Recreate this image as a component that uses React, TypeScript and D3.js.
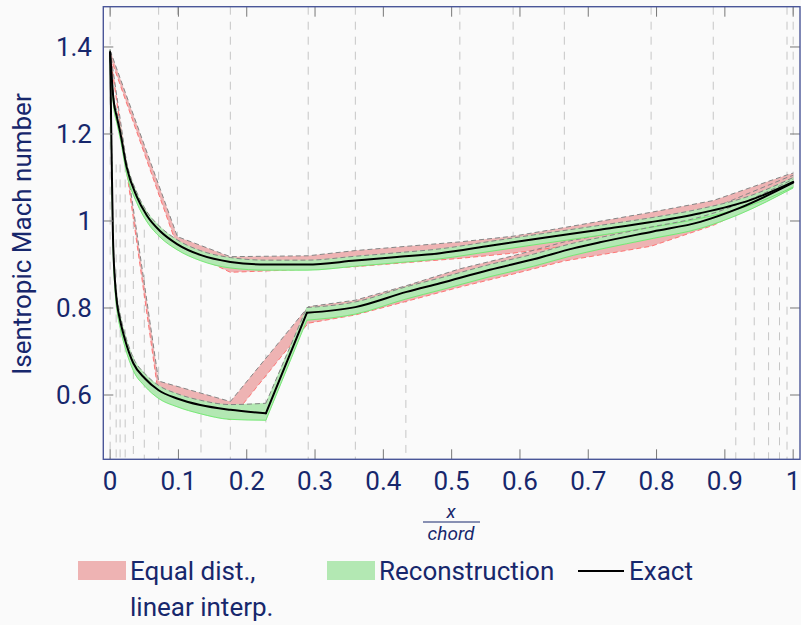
import React from 'react';
import * as d3 from 'd3';

// upper branch (suction side), exact solution
const upperX = [0, 0.005, 0.01, 0.015, 0.024, 0.039, 0.054, 0.073, 0.098, 0.132, 0.176, 0.229, 0.288, 0.359, 0.42, 0.483, 0.556, 0.62, 0.717, 0.79, 0.864, 0.937, 1.0];
const upperExact = [1.388, 1.278, 1.238, 1.202, 1.125, 1.056, 1.012, 0.977, 0.947, 0.922, 0.906, 0.9, 0.9, 0.909, 0.917, 0.926, 0.943, 0.958, 0.98, 0.997, 1.018, 1.048, 1.09];
const upperReconLo = [1.376, 1.264, 1.224, 1.188, 1.11, 1.042, 0.998, 0.963, 0.934, 0.909, 0.892, 0.887, 0.887, 0.896, 0.904, 0.913, 0.93, 0.945, 0.967, 0.985, 1.006, 1.036, 1.078];
const upperReconHi = [1.394, 1.29, 1.25, 1.213, 1.136, 1.066, 1.021, 0.987, 0.957, 0.932, 0.916, 0.91, 0.91, 0.919, 0.927, 0.936, 0.953, 0.968, 0.99, 1.007, 1.028, 1.058, 1.1];

// lower branch (with the shock), exact solution
const lowerX = [0, 0.002, 0.004, 0.007, 0.01, 0.0146, 0.022, 0.034, 0.051, 0.071, 0.098, 0.132, 0.176, 0.228, 0.288, 0.359, 0.434, 0.483, 0.556, 0.62, 0.678, 0.717, 0.795, 0.864, 0.922, 1.0];
const lowerExact = [1.388, 1.17, 0.975, 0.864, 0.812, 0.772, 0.726, 0.673, 0.638, 0.611, 0.592, 0.577, 0.566, 0.558, 0.789, 0.802, 0.837, 0.857, 0.888, 0.912, 0.937, 0.951, 0.976, 0.998, 1.03, 1.088];
const lowerReconLo = [1.376, 1.15, 0.955, 0.845, 0.795, 0.755, 0.709, 0.656, 0.62, 0.592, 0.573, 0.557, 0.544, 0.542, 0.772, 0.786, 0.821, 0.841, 0.872, 0.896, 0.921, 0.935, 0.96, 0.983, 1.016, 1.076];
const lowerReconHi = [1.394, 1.195, 0.995, 0.88, 0.828, 0.786, 0.739, 0.685, 0.649, 0.622, 0.603, 0.588, 0.578, 0.581, 0.801, 0.814, 0.849, 0.869, 0.9, 0.924, 0.949, 0.962, 0.987, 1.009, 1.04, 1.096];
// the shock sits between these two indices of lowerX
const shockStart = 13;
const shockEnd = 14;

// equal distribution sensors, linear interpolation envelope
const upperSensorX = [0, 0.0985, 0.176, 0.29, 0.359, 0.512, 0.59, 0.665, 0.792, 0.883, 0.991, 1.0];
const upperEqLo = [1.378, 0.94, 0.882, 0.889, 0.895, 0.914, 0.926, 0.942, 0.978, 1.008, 1.078, 1.082];
const upperEqHi = [1.392, 0.964, 0.918, 0.92, 0.932, 0.952, 0.965, 0.985, 1.02, 1.047, 1.106, 1.11];
const lowerSensorX = [0, 0.071, 0.176, 0.29, 0.359, 0.433, 0.512, 0.59, 0.665, 0.792, 0.883, 0.991, 1.0];
const lowerEqLo = [1.38, 0.598, 0.543, 0.765, 0.784, 0.815, 0.848, 0.878, 0.908, 0.942, 0.99, 1.072, 1.078];
const lowerEqHi = [1.392, 0.632, 0.585, 0.803, 0.818, 0.851, 0.89, 0.92, 0.952, 0.99, 1.03, 1.1, 1.105];

// sensor marker lines
const fullGridX = [0, 0.071, 0.176, 0.29, 0.359, 0.991];
const topGridX = [0.0985, 0.512, 0.59, 0.665, 0.792, 0.883, 1.0];
const topGridEnd = [0.96, 0.89, 0.91, 0.93, 0.97, 1.0, 1.09];
const bottomGridX = [0.0088, 0.0146, 0.022, 0.034, 0.05, 0.133, 0.228, 0.433, 0.916, 0.943, 0.964, 0.98];
const bottomGridStart = [1.13, 1.13, 1.13, 1.0, 0.98, 0.9, 0.9, 0.83, 1.02, 1.02, 1.02, 1.02];

const xTicks = [0, 0.1, 0.2, 0.3, 0.4, 0.5, 0.6, 0.7, 0.8, 0.9, 1];
const xTickLabels = ['0', '0.1', '0.2', '0.3', '0.4', '0.5', '0.6', '0.7', '0.8', '0.9', '1'];
const yTicks = [0.6, 0.8, 1, 1.2, 1.4];
const yTickLabels = ['0.6', '0.8', '1', '1.2', '1.4'];

const W = 801;
const H = 625;
const left = 103.3, right = 800, top = 6.7, bottom = 459.3;
const textColor = '#17276c';
const font = 'Roboto, sans-serif';
const pink = '#eeb3b3';
const green = '#b3e8b3';

const x = d3.scaleLinear().domain([-0.01, 1.01]).range([left, right]);
const y = d3.scaleLinear().domain([0.4522, 1.4926]).range([bottom, top]);

type Piece = { area: string; lo: string; hi: string };

// split index ranges so the shock stays a straight segment
function ranges(n: number, breaks: number[]) {
  const cuts = [0, ...breaks, n - 1];
  const out: number[][] = [];
  for (let k = 0; k < cuts.length - 1; k++) out.push(d3.range(cuts[k], cuts[k + 1] + 1));
  return out;
}

function band(xs: number[], lo: number[], hi: number[], curve: d3.CurveFactory, breaks: number[] = []): Piece[] {
  const area = d3.area<number>().x(i => x(xs[i])).y0(i => y(lo[i])).y1(i => y(hi[i])).curve(curve);
  const lineLo = d3.line<number>().x(i => x(xs[i])).y(i => y(lo[i])).curve(curve);
  const lineHi = d3.line<number>().x(i => x(xs[i])).y(i => y(hi[i])).curve(curve);
  return ranges(xs.length, breaks).map(idx => ({ area: area(idx) || '', lo: lineLo(idx) || '', hi: lineHi(idx) || '' }));
}

function exactLine(xs: number[], vs: number[], breaks: number[] = []) {
  const line = d3.line<number>().x(i => x(xs[i])).y(i => y(vs[i])).curve(d3.curveMonotoneX);
  return ranges(xs.length, breaks).map(idx => line(idx) || '');
}

const App: React.FC = () => {
  const eqBands = [
    ...band(upperSensorX, upperEqLo, upperEqHi, d3.curveLinear),
    ...band(lowerSensorX, lowerEqLo, lowerEqHi, d3.curveLinear),
  ];
  const recBands = [
    ...band(upperX, upperReconLo, upperReconHi, d3.curveMonotoneX),
    ...band(lowerX, lowerReconLo, lowerReconHi, d3.curveMonotoneX, [shockStart, shockEnd]),
  ];
  const exact = [...exactLine(upperX, upperExact), ...exactLine(lowerX, lowerExact, [shockStart, shockEnd])];
  const gridStyle = { stroke: '#c6c6c6', strokeWidth: 1, strokeDasharray: '8 7' };

  return (
    <div style={{ position: 'fixed', left: 0, top: 0, width: W, height: H, background: '#fafafa' }}>
      <svg width={W} height={H} style={{ display: 'block' }}>
        <defs>
          <clipPath id="plot">
            <rect x={left} y={top} width={right - left} height={bottom - top} />
          </clipPath>
        </defs>

        <g clipPath="url(#plot)">
          {/* sensor lines */}
          {fullGridX.map((v, i) => (
            <line key={'f' + i} x1={x(v)} x2={x(v)} y1={top} y2={bottom} {...gridStyle} />
          ))}
          {topGridX.map((v, i) => (
            <line key={'t' + i} x1={x(v)} x2={x(v)} y1={top} y2={y(topGridEnd[i])} {...gridStyle} />
          ))}
          {bottomGridX.map((v, i) => (
            <line key={'b' + i} x1={x(v)} x2={x(v)} y1={y(bottomGridStart[i])} y2={bottom} {...gridStyle} />
          ))}

          {/* equal dist. envelope */}
          {eqBands.map((b, i) => <path key={'eqa' + i} d={b.area} fill={pink} />)}
          {eqBands.map((b, i) => (
            <g key={'eql' + i} fill="none">
              <path d={b.hi} stroke="#858585" strokeWidth={1} strokeDasharray="5 3" />
              <path d={b.lo} stroke="#ff6a6a" strokeWidth={0.9} strokeDasharray="5 3" />
            </g>
          ))}

          {/* reconstruction envelope */}
          {recBands.map((b, i) => <path key={'reca' + i} d={b.area} fill={green} stroke={green} strokeWidth={0.5} />)}
          {recBands.map((b, i) => (
            <g key={'recl' + i} fill="none">
              <path d={b.hi} stroke="#858585" strokeWidth={1} strokeDasharray="5 3" />
              <path d={b.lo} stroke="#6ee86e" strokeWidth={0.9} />
            </g>
          ))}

          {exact.map((d, i) => (
            <path key={'ex' + i} d={d} fill="none" stroke="#000" strokeWidth={2} strokeLinecap="round" strokeLinejoin="round" />
          ))}
        </g>

        {/* ticks */}
        {xTicks.map((t, i) => (
          <g key={'xt' + i}>
            <line x1={x(t)} x2={x(t)} y1={bottom} y2={bottom - 10} stroke="#777" strokeWidth={1} />
            <line x1={x(t)} x2={x(t)} y1={top} y2={top + 10} stroke="#777" strokeWidth={1} />
            <text x={x(t)} y={490} textAnchor="middle" fill={textColor} fontFamily={font} fontSize={26}>
              {xTickLabels[i]}
            </text>
          </g>
        ))}
        {yTicks.map((t, i) => (
          <g key={'yt' + i}>
            <line x1={left} x2={left + 10} y1={y(t)} y2={y(t)} stroke="#777" strokeWidth={1} />
            <line x1={right - 10} x2={right} y1={y(t)} y2={y(t)} stroke="#777" strokeWidth={1} />
            <text x={92} y={y(t)} dy="0.36em" textAnchor="end" fill={textColor} fontFamily={font} fontSize={26}>
              {yTickLabels[i]}
            </text>
          </g>
        ))}

        <rect x={left} y={top} width={right - left} height={bottom - top} fill="none" stroke="#4a5698" strokeWidth={1.4} />

        {/* axis labels */}
        <text transform="translate(31,234) rotate(-90)" textAnchor="middle" fill={textColor} fontFamily={font} fontSize={26}>
          Isentropic Mach number
        </text>
        <text x={451} y={518} textAnchor="middle" fill={textColor} fontFamily={font} fontSize={19} fontStyle="italic">x</text>
        <line x1={423} x2={480} y1={522} y2={522} stroke={textColor} strokeWidth={1} />
        <text x={451} y={540} textAnchor="middle" fill={textColor} fontFamily={font} fontSize={19} fontStyle="italic">chord</text>

        {/* legend */}
        <rect x={78} y={561} width={48} height={19} fill={pink} />
        <text x={130} y={580} fill={textColor} fontFamily={font} fontSize={26}>Equal dist.,</text>
        <text x={130} y={616} fill={textColor} fontFamily={font} fontSize={26}>linear interp.</text>
        <rect x={327} y={561} width={48} height={19} fill={green} />
        <text x={379} y={580} fill={textColor} fontFamily={font} fontSize={26}>Reconstruction</text>
        <line x1={578} x2={624} y1={571} y2={571} stroke="#000" strokeWidth={2} />
        <text x={629} y={580} fill={textColor} fontFamily={font} fontSize={26}>Exact</text>
      </svg>
    </div>
  );
};

export default App;
